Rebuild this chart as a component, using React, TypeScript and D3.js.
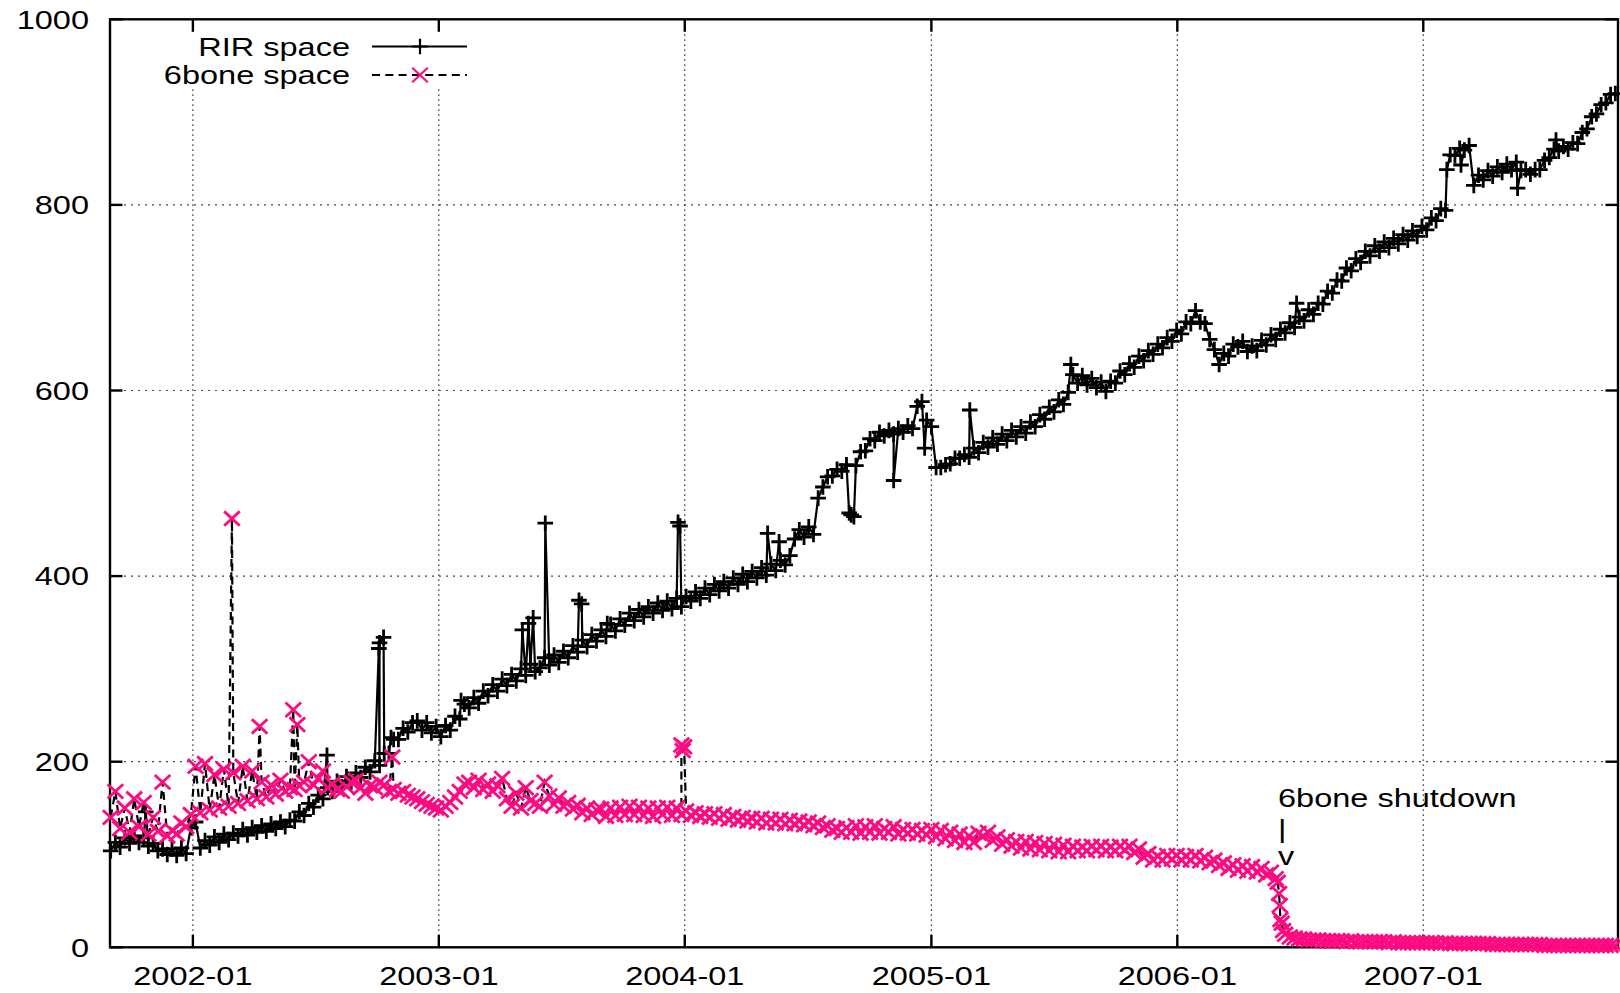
import React from 'react';
import * as d3 from 'd3';

// weekly samples, first one on 2001-09-01; one row = one quarter (13 weeks)
const weeklyStart = '2001-09-01';

const rirWeekly: number[] = [
  104, 113, 108, 118, 112, 120, 113, 118, 109, 112, 104, 106, 100,
  106, 99, 107, 101, 129, 135, 107, 115, 110, 119, 113, 122, 116,
  123, 120, 127, 121, 129, 124, 131, 125, 133, 128, 135, 130, 137,
  136, 146, 142, 155, 151, 164, 160, 172, 168, 179, 173, 184, 178,
  188, 183, 194, 189, 201, 196, 209, 209, 224, 224, 236, 232, 242,
  244, 234, 242, 231, 238, 227, 239, 234, 249, 246, 262, 258, 269,
  263, 276, 271, 283, 276, 289, 282, 294, 287, 300, 293, 305, 297,
  301, 312, 304, 315, 307, 319, 312, 325, 318, 331, 324, 337, 330,
  342, 335, 348, 341, 354, 347, 360, 352, 364, 356, 367, 360, 371,
  363, 373, 365, 376, 367, 378, 373, 383, 376, 387, 380, 391, 384,
  394, 387, 398, 391, 402, 394, 405, 398, 409, 401, 413, 406, 417,
  412, 422, 440, 450, 442, 453, 445, 484, 496, 507, 508, 515, 513,
  520, 466, 519, 534, 535, 548, 546, 555, 551, 557, 553, 559, 555,
  562, 559, 583, 588, 568, 561, 517, 517, 520, 521, 527, 527, 531,
  528, 538, 533, 544, 539, 549, 542, 553, 546, 557, 550, 561, 554,
  566, 561, 574, 569, 582, 577, 590, 585, 598, 617, 608, 616, 606,
  613, 603, 609, 599, 610, 608, 621, 617, 629, 625, 637, 632, 643,
  639, 650, 646, 657, 653, 665, 661, 674, 672, 686, 674, 672, 655,
  644, 628, 640, 637, 650, 647, 653, 642, 648, 643, 654, 649, 660,
  655, 666, 662, 673, 668, 679, 675, 687, 682, 694, 693, 707, 705,
  719, 718, 732, 729, 742, 738, 750, 745, 756, 750, 760, 754, 764,
  758, 768, 762, 772, 766, 777, 773, 786, 783, 796, 794, 854, 853,
  861, 859, 864, 821, 832, 827, 837, 831, 841, 835, 844, 838, 846,
  837, 838, 833, 838, 838, 848, 851, 860, 858, 863, 860, 867, 866,
  878, 882, 895, 898, 908, 910, 919, 920,
];

// single-day outliers between the weekly samples
const rirExtra: [string, number][] = [
  ['2001-10-23', 146], ['2002-07-19', 207], ['2002-10-04', 322], ['2002-10-05', 328], ['2002-10-11', 334],
  ['2002-10-22', 226], ['2003-02-03', 266], ['2003-05-05', 342], ['2003-05-14', 349], ['2003-05-21', 355],
  ['2003-06-08', 457], ['2003-07-28', 374], ['2003-08-01', 370], ['2003-09-08', 349], ['2003-12-22', 458],
  ['2003-12-25', 454], ['2004-05-03', 446], ['2004-05-20', 437], ['2004-09-01', 468], ['2004-09-08', 464],
  ['2004-11-06', 503], ['2004-12-22', 538], ['2005-02-27', 579], ['2005-07-27', 628], ['2006-06-27', 694],
  ['2007-02-05', 838], ['2007-02-26', 843], ['2007-05-21', 818], ['2007-07-17', 870],
];

const sixboneWeekly: number[] = [
  140, 168, 128, 150, 124, 160, 130, 156, 122, 140, 125, 178, 120,
  126, 122, 134, 130, 143, 195, 145, 198, 148, 186, 150, 192, 152,
  188, 155, 195, 158, 190, 160, 178, 162, 175, 165, 180, 168, 172,
  170, 174, 178, 200, 175, 182, 190, 172, 176, 170, 168, 173, 178,
  180, 172, 166, 174, 172, 178, 175, 168, 170, 166, 168, 164, 162,
  160, 157, 154, 152, 150, 148, 152, 156, 162, 168, 176, 178, 172,
  180, 170, 176, 168, 174, 182, 160, 152, 166, 150, 172, 158, 155,
  152, 178, 163, 154, 161, 152, 156, 149, 153, 145, 150, 143, 148,
  149, 141, 150, 142, 151, 143, 152, 143, 151, 142, 150, 141, 150,
  143, 151, 142, 150, 143, 147, 142, 145, 141, 144, 140, 144, 139,
  143, 138, 141, 137, 140, 136, 139, 135, 139, 134, 138, 134, 138,
  133, 137, 133, 136, 132, 135, 131, 134, 129, 131, 126, 128, 124,
  129, 124, 131, 123, 130, 124, 131, 123, 128, 124, 130, 122, 127,
  123, 127, 122, 126, 121, 127, 119, 126, 117, 124, 115, 122, 113,
  120, 113, 123, 120, 124, 115, 119, 111, 116, 109, 114, 107, 114,
  106, 113, 105, 112, 104, 111, 103, 110, 103, 109, 104, 108, 104,
  109, 105, 109, 104, 108, 104, 109, 105, 109, 102, 106, 97, 101,
  94, 98, 94, 99, 95, 99, 94, 98, 94, 99, 93, 97, 91,
  94, 88, 91, 85, 89, 83, 88, 82, 87, 81, 85, 78, 81,
  74, 30, 14, 11, 10, 9, 9, 8, 8, 8, 7, 7, 7,
  7, 7, 6, 7, 6, 6, 6, 6, 6, 6, 6, 5, 6,
  5, 5, 5, 5, 5, 5, 5, 5, 5, 4, 5, 4, 4,
  4, 4, 4, 4, 4, 4, 4, 3, 3, 3, 3, 3, 3,
  3, 3, 3, 3, 3, 2, 2, 2, 2, 2, 2, 2, 2,
  2, 2, 2, 2, 2, 2, 2, 2,
];

const sixboneExtra: [string, number][] = [
  ['2002-02-28', 462], ['2002-04-10', 238], ['2002-05-30', 256], ['2002-06-05', 240], ['2002-10-24', 205],
  ['2003-12-27', 218], ['2003-12-29', 212], ['2003-12-31', 216], ['2006-05-30', 70], ['2006-06-01', 58],
  ['2006-06-02', 45], ['2006-06-05', 26], ['2006-06-07', 18],
];

const xTickDates = ['2002-01-01', '2003-01-01', '2004-01-01', '2005-01-01', '2006-01-01', '2007-01-01'];
const yTickValues = [0, 200, 400, 600, 800, 1000];
const legendLabels = ['RIR space', '6bone space'];
const annotationLines = ['6bone shutdown', '|', 'v'];

const W = 1620;
const H = 993;
const margin = { left: 110, right: 1618, top: 19.3, bottom: 947.3 };
const PINK = '#ff0a80';
const FONT = '"Liberation Sans", Arial, Helvetica, sans-serif';
const FS = 25.6;
const SX = 1.27; // the original is stretched horizontally

const parseDay = d3.utcParse('%Y-%m-%d');
const fmtTick = d3.utcFormat('%Y-%m');

type Pt = { date: Date; value: number };

// weekly samples + the dated extras, in time order
function buildSeries(weekly: number[], extra: [string, number][]): Pt[] {
  const start = parseDay(weeklyStart) as Date;
  const pts: Pt[] = weekly.map((value, i) => ({ date: d3.utcDay.offset(start, i * 7), value }));
  extra.forEach(([d, value]) => pts.push({ date: parseDay(d) as Date, value }));
  return pts.sort((a, b) => +a.date - +b.date);
}

const plusPath = 'M-7.8,0H7.8M0,-7.8V7.8';
const crossPath = 'M-7.8,-7.2L7.8,7.2M-7.8,7.2L7.8,-7.2';

const Label = ({ x, y, anchor = 'start', children }: { x: number; y: number; anchor?: string; children: React.ReactNode }) => (
  <text
    transform={`translate(${x},${y}) scale(${SX},1)`}
    textAnchor={anchor}
    fontFamily={FONT}
    fontSize={FS}
    fill="#000"
  >
    {children}
  </text>
);

export default function App() {
  const rir = buildSeries(rirWeekly, rirExtra);
  const sixbone = buildSeries(sixboneWeekly, sixboneExtra);

  const x = d3.scaleUtc()
    .domain([parseDay('2001-08-31') as Date, parseDay('2007-10-17') as Date])
    .range([margin.left, margin.right]);
  const y = d3.scaleLinear().domain([0, 1000]).range([margin.bottom, margin.top]);

  const line = d3.line<Pt>().x(d => x(d.date)).y(d => y(d.value));

  const xTicks = xTickDates.map(s => parseDay(s) as Date);
  const tickLen = 12.5;

  return (
    <svg width={W} height={H} style={{ position: 'absolute', left: 0, top: 0, background: '#fff' }}>
      <rect x={0} y={0} width={W} height={H} fill="#fff" />

      {/* grid */}
      <g stroke="#444" strokeWidth={1.2} fill="none">
        {yTickValues.filter(v => v > 0 && v < 1000).map(v => (
          <line key={v} x1={margin.left} x2={margin.right} y1={y(v)} y2={y(v)} strokeDasharray="2,5" />
        ))}
        {xTicks.map((d, i) => (
          <line key={i} x1={x(d)} x2={x(d)} y1={margin.top} y2={margin.bottom} strokeDasharray="1.6,3.4" />
        ))}
      </g>

      {/* key area is opaque */}
      <rect x={margin.left + 2} y={margin.top + 2} width={362} height={67} fill="#fff" />

      {/* border and ticks */}
      <g stroke="#000" strokeWidth={2.4} fill="none">
        <rect x={margin.left} y={margin.top} width={margin.right - margin.left} height={margin.bottom - margin.top} />
        {yTickValues.map(v => (
          <g key={v}>
            <line x1={margin.left} x2={margin.left + tickLen} y1={y(v)} y2={y(v)} />
            <line x1={margin.right - tickLen} x2={margin.right} y1={y(v)} y2={y(v)} />
          </g>
        ))}
        {xTicks.map((d, i) => (
          <g key={i}>
            <line x1={x(d)} x2={x(d)} y1={margin.bottom} y2={margin.bottom - tickLen} />
            <line x1={x(d)} x2={x(d)} y1={margin.top} y2={margin.top + tickLen} />
          </g>
        ))}
      </g>

      {/* RIR space */}
      <path d={line(rir) || ''} fill="none" stroke="#000" strokeWidth={2.2} />
      <g stroke="#000" strokeWidth={2.8} fill="none">
        {rir.map((d, i) => (
          <path key={i} d={plusPath} transform={`translate(${x(d.date)},${y(d.value)})`} />
        ))}
      </g>

      {/* 6bone space */}
      <path d={line(sixbone) || ''} fill="none" stroke="#000" strokeWidth={2.2} strokeDasharray="8,5.3" />
      <g stroke={PINK} strokeWidth={2.8} fill="none">
        {sixbone.map((d, i) => (
          <path key={i} d={crossPath} transform={`translate(${x(d.date)},${y(d.value)})`} />
        ))}
      </g>

      {/* axis labels */}
      {yTickValues.map(v => (
        <Label key={v} x={89} y={y(v) + 9.3} anchor="end">{v}</Label>
      ))}
      {xTicks.map((d, i) => (
        <Label key={i} x={x(d)} y={985} anchor="middle">{fmtTick(d)}</Label>
      ))}

      {/* legend */}
      <Label x={350} y={55.5} anchor="end">{legendLabels[0]}</Label>
      <line x1={372} x2={467} y1={46.5} y2={46.5} stroke="#000" strokeWidth={2} />
      <path d={plusPath} transform="translate(420,46.5)" stroke="#000" strokeWidth={2.2} fill="none" />
      <Label x={350} y={83.5} anchor="end">{legendLabels[1]}</Label>
      <line x1={372} x2={467} y1={75} y2={75} stroke="#000" strokeWidth={2} strokeDasharray="8,5.3" />
      <path d={crossPath} transform="translate(420,75)" stroke={PINK} strokeWidth={2.2} fill="none" />

      {/* annotation */}
      <Label x={1278} y={806.5}>{annotationLines[0]}</Label>
      <Label x={1278} y={838}>{annotationLines[1]}</Label>
      <Label x={1278} y={865}>{annotationLines[2]}</Label>
    </svg>
  );
}
